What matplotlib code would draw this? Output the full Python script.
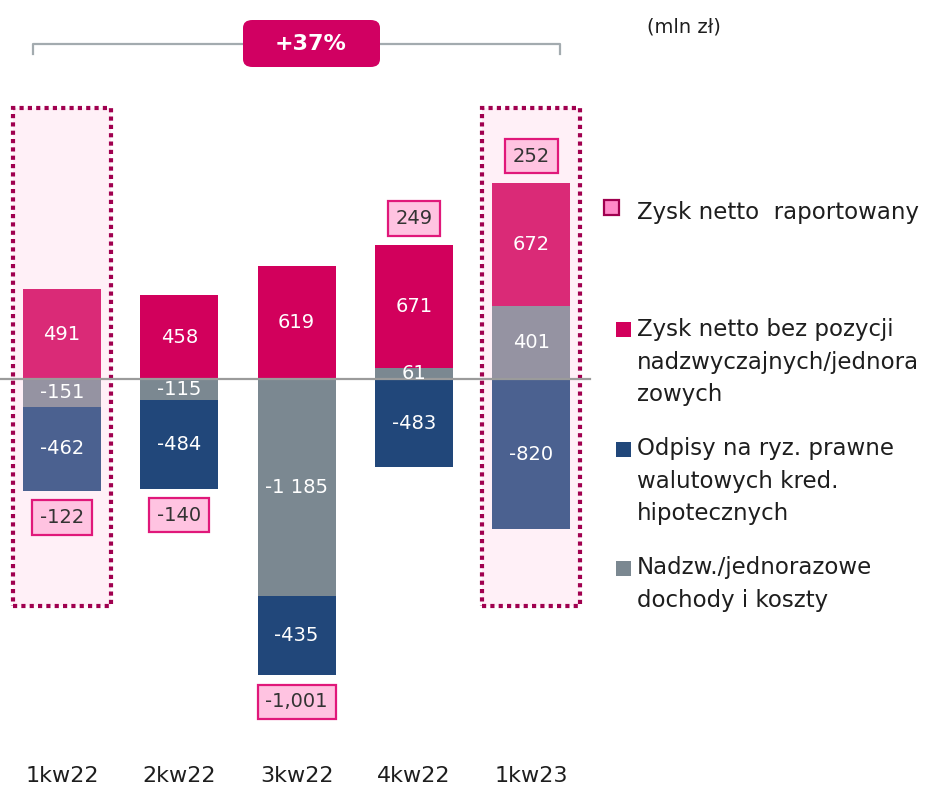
import matplotlib.pyplot as plt
import numpy as np
from matplotlib.patches import Rectangle, FancyBboxPatch
from matplotlib.transforms import blended_transform_factory

plt.rcParams['font.family'] = ['DejaVu Sans']

#####################################################################
# Data (mln zl)

quarters = ['1kw22', '2kw22', '3kw22', '4kw22', '1kw23']
nadzw = [-151, -115, -1185, 61, 401]        # nadzw./jednorazowe dochody i koszty
zysk_bez = [491, 458, 619, 671, 672]        # zysk netto bez pozycji nadzw.
odpisy = [-462, -484, -435, -483, -820]     # odpisy na ryzyko prawne CHF
zysk_rap = [-122, -140, -1001, 249, 252]    # zysk netto raportowany
highlight = [True, False, False, False, True]
growth_label = '+37%'

#####################################################################
# Styling

W, H = 940, 787
c_pink, c_pink_hl = '#D2005C', '#DA2A77'
c_grey, c_grey_hl = '#7B8891', '#9593A2'
c_blue, c_blue_hl = '#21477A', '#4B6190'
c_box_face, c_box_edge = '#FFC3E1', '#E0187A'
c_dot = '#A0004F'
c_text = '#1E1E1E'

fig = plt.figure(figsize=(W / 100, H / 100), dpi=100)
ax = fig.add_axes([0, 0, 1, 1])
ax.axis('off')

# pixel layout -> data scale
x_c0, x_step = 62, 117.3
y_zero, px_per_unit = 379, 0.183
ax.set_xlim((0 - x_c0) / x_step, (W - x_c0) / x_step)
ax.set_ylim(-(H - y_zero) / px_per_unit, y_zero / px_per_unit)

def fpx(x, y):
    return x / W, 1 - y / H

x = np.arange(len(quarters))
bar_w = 0.665

#####################################################################
# Highlight frames (1kw22, 1kw23)

for i in x:
    if highlight[i]:
        ax.add_patch(Rectangle((i - 0.42, -1240), 0.84, 2720,
                               facecolor='#FFF0F7', edgecolor=c_dot,
                               linewidth=3, linestyle=(0, (1, 1)), zorder=1))

#####################################################################
# Stacked bars

pos_bottom = np.zeros(len(x))
neg_bottom = np.zeros(len(x))
series = [(nadzw, c_grey, c_grey_hl), (zysk_bez, c_pink, c_pink_hl),
          (odpisy, c_blue, c_blue_hl)]

for vals, col, col_hl in series:
    vals = np.array(vals, dtype=float)
    bottom = np.where(vals >= 0, pos_bottom, neg_bottom)
    colors = [col_hl if h else col for h in highlight]
    ax.bar(x, vals, bar_w, bottom=bottom, color=colors, linewidth=0, zorder=2)
    for i, v in enumerate(vals):
        lab = '{:,}'.format(int(v)).replace(',', ' ')
        ax.text(i, bottom[i] + v / 2, lab, ha='center', va='center',
                color='white', fontsize=14, zorder=4)
    pos_bottom = pos_bottom + np.where(vals >= 0, vals, 0)
    neg_bottom = neg_bottom + np.where(vals < 0, vals, 0)

# zero line
ax.plot([ax.get_xlim()[0], 4.5], [0, 0], color='#9B9B9B', lw=1.6, zorder=3)

#####################################################################
# Reported net profit boxes

for i, v in enumerate(zysk_rap):
    if v >= 0:
        y = pos_bottom[i] + 145
    else:
        y = neg_bottom[i] - 145
    ax.text(i, y, '{:,}'.format(v), ha='center', va='center',
            fontsize=14, color='#333333', zorder=5,
            bbox=dict(boxstyle='square,pad=0.4', facecolor=c_box_face,
                      edgecolor=c_box_edge, linewidth=1.6))

#####################################################################
# Category labels

tr = blended_transform_factory(ax.transData, fig.transFigure)
for i, q in enumerate(quarters):
    ax.text(i, 1 - 776 / H, q, transform=tr, ha='center', va='center',
            fontsize=16, color=c_text)

#####################################################################
# Growth bracket

gx0, gx1, gy = 33, 560, 44
ax.plot([gx0 / W, gx0 / W, gx1 / W, gx1 / W],
        [1 - 54 / H, 1 - gy / H, 1 - gy / H, 1 - 54 / H],
        transform=fig.transFigure, color='#A3ABAF', lw=1.6, zorder=2)
bx, by = fpx(243, 67)
ax.add_patch(FancyBboxPatch((bx, by), 137 / W, 47 / H,
                            boxstyle='round,pad=0,rounding_size=0.01',
                            transform=fig.transFigure, facecolor='#D10062',
                            edgecolor='none', zorder=3))
ax.text(*fpx(311, 44), growth_label, transform=fig.transFigure, ha='center',
        va='center', fontsize=16, fontweight='bold', color='white', zorder=4)

ax.text(*fpx(684, 27), '(mln zł)', transform=fig.transFigure, ha='center',
        va='center', fontsize=14, color=c_text)

#####################################################################
# Legend (drawn by hand)

leg = [
    ('Zysk netto  raportowany', 212, (604, 200), '#FF8AC8', c_dot),
    ('Zysk netto bez pozycji\nnadzwyczajnych/jednora\nzowych', 362, (616, 322), c_pink, 'none'),
    ('Odpisy na ryz. prawne\nwalutowych kred.\nhipotecznych', 481, (616, 442), c_blue, 'none'),
    ('Nadzw./jednorazowe\ndochody i koszty', 584, (616, 561), c_grey, 'none'),
]
for txt, ty, (sx, sy), fc, ec in leg:
    ax.add_patch(Rectangle(fpx(sx, sy + 15), 15 / W, 15 / H,
                           transform=fig.transFigure, facecolor=fc,
                           edgecolor=ec, linewidth=1.6))
    ax.text(*fpx(637, ty), txt, transform=fig.transFigure, ha='left',
            va='center', fontsize=16.5, color=c_text, linespacing=1.55)

fig.savefig('out.png', dpi=100)
